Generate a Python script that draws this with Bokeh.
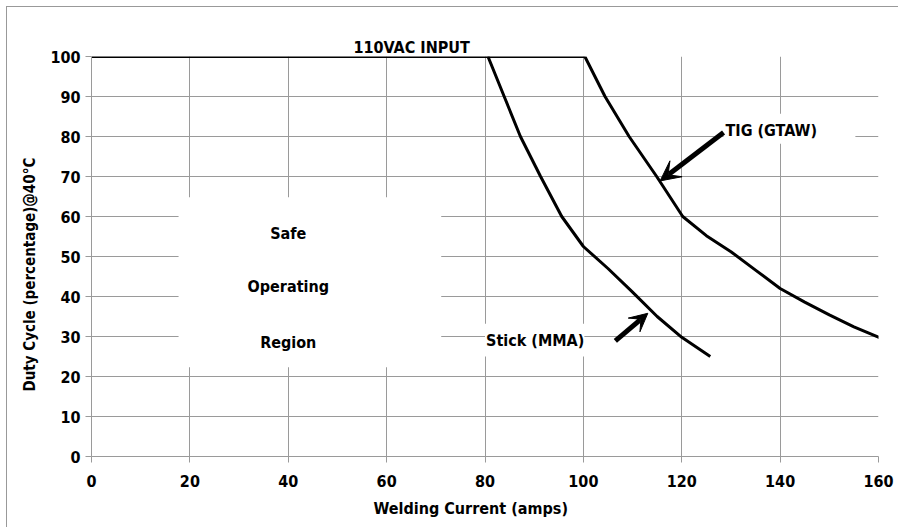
from bokeh.plotting import figure
from bokeh.models import Range1d, FixedTicker, Label, Arrow, VeeHead, Title
from bokeh.embed import file_html
from bokeh.resources import INLINE

# ---- data ----
x_ticks = [0, 20, 40, 60, 80, 100, 120, 140, 160]
y_ticks = [0, 10, 20, 30, 40, 50, 60, 70, 80, 90, 100]

input_x = [0, 100.3]
input_y = [100, 100]

stick_x = [80.6, 83.9, 87.2, 91.3, 95.6, 100, 105, 110, 115, 120, 125.8]
stick_y = [100, 90, 80, 70, 60, 52.5, 47, 41.1, 35, 29.8, 25]

tig_x = [100.3, 104.4, 109.3, 114.9, 120.2, 125, 130, 135, 140, 145, 150, 155, 160.3]
tig_y = [100, 90, 80, 70, 60, 55.2, 51.2, 46.6, 42, 38.6, 35.4, 32.4, 29.7]

FONT = "DejaVu Sans Condensed"
FS = "16px"
GRID = "#9a9a9a"

p = figure(width=892, height=521, output_backend="svg", toolbar_location=None,
           x_range=Range1d(0, 160), y_range=Range1d(0, 100),
           min_border_left=84, min_border_top=49, min_border_right=21, min_border_bottom=72)
p.styles = {"margin-left": "6px", "margin-top": "6px",
            "border-left": "1px solid #999999", "border-top": "1px solid #999999"}
p.outline_line_color = None
p.background_fill_color = "white"

for ax in (p.xaxis[0], p.yaxis[0]):
    ax.axis_line_color = GRID
    ax.major_tick_line_color = GRID
    ax.major_tick_out = 6
    ax.major_tick_in = 0
    ax.minor_tick_line_color = None
    ax.major_label_text_font = FONT
    ax.major_label_text_font_style = "bold"
    ax.major_label_text_font_size = FS
    ax.major_label_text_color = "black"
p.xaxis[0].ticker = FixedTicker(ticks=x_ticks)
p.yaxis[0].ticker = FixedTicker(ticks=y_ticks)
p.xaxis[0].major_label_standoff = 12
p.yaxis[0].major_label_standoff = 5

p.xgrid[0].ticker = FixedTicker(ticks=x_ticks)
p.ygrid[0].ticker = FixedTicker(ticks=y_ticks)
for g in (p.xgrid[0], p.ygrid[0]):
    g.grid_line_color = GRID
    g.grid_line_width = 1

# white label boxes covering gridlines
p.quad(left=[17.7, 128.5, 80.0], right=[71.1, 155.3, 100.2],
       bottom=[22.3, 78.2, 25.0], top=[64.8, 85.7, 33.2],
       fill_color="white", line_color=None)

p.line(input_x, input_y, line_color="black", line_width=3.2)
p.line(stick_x, stick_y, line_color="black", line_width=3)
p.line(tig_x, tig_y, line_color="black", line_width=3)

def lab(x, y, t, **kw):
    d = dict(x=x, y=y, text=t, text_font=FONT, text_font_style="bold",
             text_font_size=FS, text_color="black", text_align="center",
             text_baseline="middle")
    d.update(kw)
    p.add_layout(Label(**d))

lab(40, 55.8, "Safe")
lab(40, 42.4, "Operating")
lab(40, 28.5, "Region")
lab(138.2, 81.6, "TIG (GTAW)")
lab(90.2, 28.9, "Stick (MMA)")

# top caption
p.title.text = "110VAC INPUT"
p.title.align = "left"
p.title.offset = 262
p.title.standoff = -1
p.title.text_font = FONT
p.title.text_font_style = "bold"
p.title.text_font_size = FS
p.title.text_color = "black"

def side_title(text, loc, offset, standoff, size):
    t = Title(text=text, align="left", offset=offset, standoff=standoff,
              text_font=FONT, text_font_style="bold", text_font_size=size,
              text_color="black")
    p.add_layout(t, loc)

side_title("Duty Cycle (percentage)@40°C", "left", 65, 18, "15px")
side_title("Welding Current (amps)", "below", 282, 15, FS)

p.add_layout(Arrow(x_start=128.5, y_start=81.0, x_end=115.6, y_end=68.9,
                   line_width=5, line_color="black",
                   end=VeeHead(size=20, fill_color="black", line_color="black")))
p.add_layout(Arrow(x_start=106.5, y_start=28.9, x_end=113.1, y_end=35.8,
                   line_width=5, line_color="black",
                   end=VeeHead(size=18, fill_color="black", line_color="black")))

open("out.html", "w").write(file_html(p, INLINE))
